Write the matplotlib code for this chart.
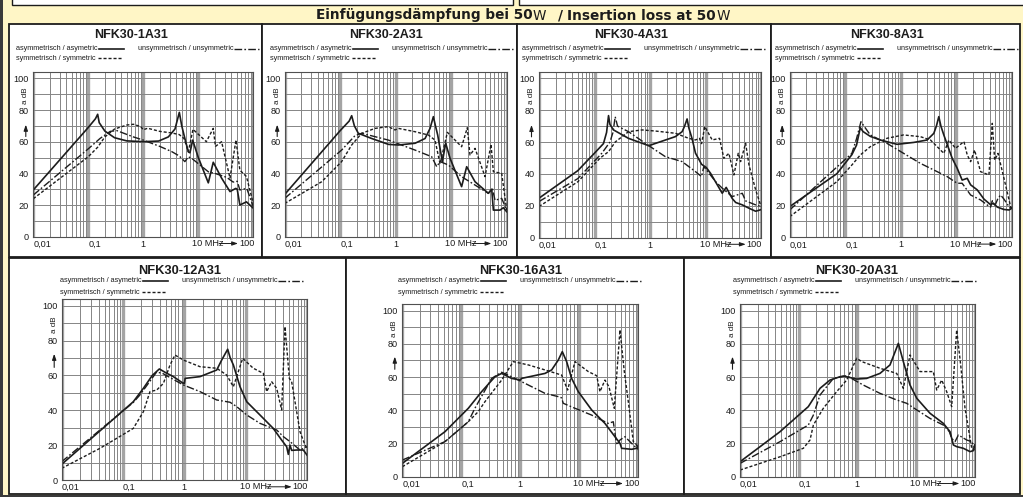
import matplotlib
matplotlib.use("Agg")
import matplotlib.pyplot as plt
from matplotlib.patches import Rectangle
from matplotlib.lines import Line2D
from matplotlib.ticker import FixedLocator, LogLocator, NullFormatter, FixedFormatter

# ---------------- data (frequency in MHz, attenuation in dB) ----------------
TITLES = ["NFK30-1A31", "NFK30-2A31", "NFK30-4A31", "NFK30-8A31",
          "NFK30-12A31", "NFK30-16A31", "NFK30-20A31"]
YTICKS = [0, 20, 40, 60, 80, 100]
XTICKS = [0.01, 0.1, 1]
XTICK_LABELS = ["0,01", "0,1", "1"]
LEG_ASYM = "asymmetrisch / asymetric"
LEG_UNSYM = "unsymmetrisch / unsymmetric"
LEG_SYM = "symmetrisch / symmetric"

# NFK30-1A31
F1_ASYM = [0.01, 0.1, 0.135, 0.148, 0.158, 0.2, 0.3, 0.5, 1.0, 1.9, 2.85, 3.77, 4.52, 5.0, 5.7, 6.6, 7.05, 7.9, 10, 15.2, 18.7, 26.5, 37.7, 48, 51, 57, 75, 100]
D1_ASYM = [29.5, 69, 74.5, 77.3, 72, 66.7, 62.5, 60.5, 60, 60.4, 63, 68, 78.5, 70, 62, 53.5, 53, 61, 50, 34, 47, 37, 28.5, 30.5, 30, 20, 22, 18]
F1_UNSYM = [0.01, 0.1, 0.163, 0.25, 0.33, 0.66, 1.0, 2.0, 3.3, 4.5, 5.7, 6.6, 7.9, 10.7, 15.2, 20, 32.7, 43, 51, 57, 76, 100]
D1_UNSYM = [26.3, 55.5, 62, 66.5, 67, 63, 61, 57, 53.7, 51, 47.4, 50.5, 49, 45.3, 41, 40, 37.5, 34.5, 35, 29.5, 30.5, 19]
F1_SYM = [0.01, 0.1, 0.148, 0.2, 0.3, 0.5, 0.66, 0.9, 1.0, 1.2, 2.0, 3.3, 4.5, 5.5, 6.6, 8.0, 14, 18.7, 20.5, 26.5, 37.7, 48.4, 57, 75, 100]
D1_SYM = [24, 50.5, 56.5, 63, 68, 70.5, 71, 69.5, 67.5, 68.5, 66.5, 65.5, 64.5, 62, 53.7, 67.8, 60, 68.4, 57, 60, 37, 61, 42, 38, 21]

# NFK30-2A31
F2_ASYM = [0.01, 0.1, 0.145, 0.161, 0.18, 0.212, 0.37, 0.74, 1.12, 2.23, 3.38, 4.16, 4.77, 5.2, 5.71, 6.93, 7.96, 9.53, 15.4, 19, 26.9, 46.7, 53.7, 57.5, 75.8, 87, 100]
D2_ASYM = [26.7, 67, 73, 76.4, 70, 65.3, 62, 58.3, 57.9, 59, 62, 68.4, 75.8, 70, 64.2, 47.4, 59, 49.5, 31.6, 44.2, 34.7, 27.4, 30, 16.8, 16.8, 18.3, 15.8]
F2_UNSYM = [0.01, 0.106, 0.185, 0.244, 0.74, 2.23, 4.45, 5.48, 6.3, 8.89, 15.4, 26.9, 46.7, 55.2, 61.6, 81.2, 100]
D2_UNSYM = [24.2, 54.7, 63.8, 65.3, 61, 54.7, 50.5, 44.2, 47.4, 45.3, 37.9, 32.6, 27.4, 30.5, 23, 24.2, 16.8]
F2_SYM = [0.01, 0.0464, 0.106, 0.161, 0.244, 0.424, 0.738, 0.973, 1.12, 2.23, 3.88, 5.11, 6.3, 8.53, 15.4, 19.5, 21.8, 26.9, 40.7, 52.2, 57.5, 81.2, 100]
D2_SYM = [21, 34.7, 47.4, 57.9, 65.3, 68.4, 69.5, 67.4, 68.4, 66.3, 64.2, 61, 46, 65.9, 56.8, 68.8, 51.6, 55.8, 37.9, 58.3, 41, 40, 16.8]

# NFK30-4A31
F3_ASYM = [0.01, 0.05, 0.1, 0.145, 0.165, 0.179, 0.19, 0.22, 0.41, 0.95, 2.87, 3.79, 4.2, 4.66, 5.0, 5.74, 6.6, 8.5, 10.3, 12.3, 20, 23.6, 30.3, 35, 46, 60, 80, 100]
D3_ASYM = [24.7, 42, 53, 59, 66, 76.6, 71, 67.6, 62.3, 57.7, 63.4, 66.5, 70, 74.5, 69, 62, 53, 46, 44, 40.4, 27.8, 31.5, 24.5, 22, 20.5, 18.5, 16.5, 17.5]
F3_UNSYM = [0.01, 0.05, 0.136, 0.19, 0.215, 0.236, 0.26, 0.41, 0.95, 1.89, 3.79, 6.59, 8.47, 9.33, 15.2, 20, 30.3, 46, 52.8, 80, 100]
D3_UNSYM = [22.6, 37, 53, 60, 66, 75.9, 70, 66.5, 57.7, 50.8, 47.7, 41.4, 38.3, 44.6, 35.1, 31, 25.7, 27.8, 23, 20.5, 19.5]
F3_SYM = [0.01, 0.05, 0.127, 0.18, 0.236, 0.41, 0.72, 1.25, 2.87, 5.0, 6.6, 7.8, 8.5, 9.7, 13.2, 17.9, 21.4, 26.4, 32.5, 38.9, 42.9, 52.8, 60.7, 80, 100]
D3_SYM = [19.5, 35, 50, 54, 60, 66.5, 67.6, 66.9, 65.5, 62.3, 61.3, 62.3, 59, 69.7, 61.3, 62.3, 49.8, 52.9, 39.3, 52.9, 47.7, 59.2, 45.6, 30, 19.5]

# NFK30-8A31
F4_ASYM = [0.01, 0.0707, 0.132, 0.16, 0.187, 0.21, 0.283, 0.43, 0.86, 1.72, 2.99, 3.95, 4.4, 4.86, 5.3, 5.98, 8.47, 10.4, 12.8, 15.8, 18.2, 24, 31.7, 41.7, 46.7, 55, 72.6, 89.5, 100]
D4_ASYM = [19.3, 40, 52, 58, 69, 66.5, 63.5, 61.2, 58.5, 59.7, 61.2, 65.4, 70, 75.9, 70, 64.4, 49.7, 43.5, 36, 37.1, 33, 29.8, 24, 20.5, 21.5, 19, 17.5, 17.2, 18.2]
F4_UNSYM = [0.01, 0.132, 0.16, 0.192, 0.283, 0.566, 1.13, 2.27, 4.54, 6.87, 10.4, 12.8, 18.2, 27.5, 36.3, 41.7, 44.7, 49.3, 56.6, 63.2, 72.6, 89.5, 100]
D4_UNSYM = [17.2, 52.8, 62, 72.7, 64.4, 59.1, 52.8, 46.5, 41.3, 38.2, 34, 34, 26.6, 23.5, 20.3, 19, 23, 19.5, 24.5, 26.6, 24, 19.3, 18.2]
F4_SYM = [0.01, 0.0707, 0.132, 0.187, 0.283, 0.566, 1.13, 2.27, 3.44, 4.86, 5.98, 7.37, 9.72, 13.8, 15.8, 18.2, 21.4, 27.5, 38.9, 44.7, 49.3, 56.6, 72.6, 95.5, 100]
D4_SYM = [13, 35, 45.5, 51.8, 57, 62.3, 64.4, 63.3, 61.2, 56, 52.8, 61.2, 56, 60.2, 51.8, 47.6, 54.9, 41.3, 39.2, 71.7, 48.6, 52.8, 37.1, 19.3, 18.2]

# NFK30-12A31
F5_ASYM = [0.01, 0.147, 0.215, 0.3, 0.391, 0.5, 0.662, 0.964, 1.0, 1.03, 1.8, 3.37, 4.06, 5.09, 5.6, 6.3, 8.09, 10.4, 17.1, 28.2, 38.6, 46.6, 49.6, 52.8, 56.2, 67.9, 87.1, 100]
D5_ASYM = [9, 44.9, 52.6, 60, 63.7, 61.5, 59.3, 55.4, 55.4, 58.3, 59.3, 63.1, 68.8, 75, 70, 66, 53.5, 44.9, 37.3, 29.6, 22.9, 19.1, 14.7, 20, 17, 17.2, 17.2, 14.3]
F5_UNSYM = [0.01, 0.147, 0.189, 0.354, 0.45, 0.964, 1.8, 3.37, 5.56, 7.13, 10.4, 17.1, 32, 41.1, 52.8, 76.9, 100]
D5_UNSYM = [10.5, 44.5, 48.8, 62, 61, 54.5, 50.7, 45.9, 44.6, 42.1, 37.3, 32.5, 28.7, 24.9, 22, 17.2, 19.1]
F5_SYM = [0.01, 0.0422, 0.147, 0.215, 0.275, 0.354, 0.455, 0.584, 0.704, 0.964, 1.8, 3.37, 4.9, 6.3, 8.94, 13.3, 19.4, 22, 26.5, 32, 38.6, 43.8, 51.5, 56.2, 76.9, 92.7, 100]
D5_SYM = [6.7, 18.2, 29.6, 39.2, 50.7, 51.6, 55.4, 66, 71.7, 68.8, 65, 64.1, 60.2, 53.5, 69.8, 64.1, 61.2, 50.7, 56.4, 52.6, 40.2, 88, 58.3, 56.4, 27.7, 20.1, 18.2]

# NFK30-16A31
F6_ASYM = [0.01, 0.0528, 0.1315, 0.221, 0.372, 0.483, 0.713, 1.0, 1.05, 2.62, 3.4, 4.41, 5.15, 6.1, 7.41, 9.62, 16.2, 27.2, 40.2, 48.9, 52.2, 77.1, 93.7, 100]
D6_ASYM = [8, 27.1, 41.2, 51.2, 60.2, 62.2, 59.2, 58.2, 59.2, 62.2, 64.3, 70.3, 75.3, 69.3, 59.2, 51.2, 40.2, 32.1, 24.1, 20.1, 17.1, 16.5, 17.1, 19]
F6_UNSYM = [0.01, 0.0528, 0.1315, 0.17, 0.327, 0.483, 0.713, 1.37, 2.62, 4.41, 5.0, 5.35, 8.45, 16.2, 31, 37.7, 43, 48.9, 59.4, 87.8, 100]
D6_UNSYM = [10, 21.1, 33.1, 41.2, 59.2, 62.9, 60.2, 55.2, 50.2, 48.2, 47.5, 44.2, 41.2, 37.1, 32.1, 33.1, 19.1, 22.1, 24.1, 18.1, 17.1]
F6_SYM = [0.01, 0.0528, 0.1315, 0.194, 0.252, 0.483, 0.76, 1.37, 2.62, 5.02, 6.34, 8.45, 14.2, 19.7, 22.4, 27.2, 31.8, 39.2, 48.9, 57.9, 67.7, 82.3, 90.2, 100]
D6_SYM = [6, 21.1, 33.1, 39.2, 45.2, 58.2, 69.3, 67.3, 64.3, 61.2, 52.2, 69.3, 63.3, 60.8, 51.2, 58.2, 54.2, 41.2, 88.4, 63.3, 45.2, 21.1, 20.1, 16.1]

# NFK30-20A31
F7_ASYM = [0.01, 0.0481, 0.146, 0.231, 0.342, 0.507, 0.577, 0.975, 1.44, 2.43, 3.6, 5.0, 6.08, 7.9, 10.3, 17.3, 29.2, 38, 43.3, 49.3, 64.1, 83.2, 94.9, 100]
D7_ASYM = [9, 27.1, 42.2, 53.2, 58.2, 60.2, 60.6, 58.8, 59.2, 62.2, 67.3, 80.3, 69.3, 55.2, 47.2, 38.2, 32.1, 27.1, 19.1, 18.1, 17.1, 15.1, 15.7, 19.1]
F7_UNSYM = [0.01, 0.0481, 0.146, 0.178, 0.231, 0.39, 0.658, 1.26, 2.43, 4.68, 6.93, 10.3, 17.3, 29.2, 37, 40.5, 46.2, 52.7, 73.1, 88.9, 100]
D7_UNSYM = [8, 21.1, 31.1, 37.1, 49.2, 59.2, 60.8, 55.2, 50.2, 46.2, 44.2, 40.2, 35.1, 31.1, 27.1, 23.1, 21.1, 25.1, 22.1, 21.1, 17.1]
F7_SYM = [0.01, 0.0481, 0.12, 0.156, 0.178, 0.263, 0.444, 0.658, 0.975, 1.19, 2.43, 4.68, 6.08, 7.9, 11.7, 19.7, 22.5, 27.4, 33.3, 40.5, 49.3, 57.7, 68.4, 88.9, 100]
D7_SYM = [4, 12, 17.1, 22.1, 31.1, 41.2, 51.2, 58.2, 71.3, 69.3, 65.3, 62.2, 53.2, 73.3, 63.3, 63.3, 52.2, 58.2, 51.2, 42.2, 88.4, 67.3, 41.2, 17.1, 16.1]

SERIES = [
    ((F1_ASYM, D1_ASYM), (F1_UNSYM, D1_UNSYM), (F1_SYM, D1_SYM)),
    ((F2_ASYM, D2_ASYM), (F2_UNSYM, D2_UNSYM), (F2_SYM, D2_SYM)),
    ((F3_ASYM, D3_ASYM), (F3_UNSYM, D3_UNSYM), (F3_SYM, D3_SYM)),
    ((F4_ASYM, D4_ASYM), (F4_UNSYM, D4_UNSYM), (F4_SYM, D4_SYM)),
    ((F5_ASYM, D5_ASYM), (F5_UNSYM, D5_UNSYM), (F5_SYM, D5_SYM)),
    ((F6_ASYM, D6_ASYM), (F6_UNSYM, D6_UNSYM), (F6_SYM, D6_SYM)),
    ((F7_ASYM, D7_ASYM), (F7_UNSYM, D7_UNSYM), (F7_SYM, D7_SYM)),
]

# ---------------- layout (pixels, origin top-left) ----------------
W, H = 1023, 497
BG = "#fff6c6"
INK = "#1c1c1c"
LAYOUT = [
    ((9, 262, 24, 257), (33.3, 253.3, 72, 236.7), (131.5, 35), (16, 49)),
    ((262, 517, 24, 257), (284.7, 506.7, 72, 236.7), (386.5, 35), (270, 49)),
    ((517, 771, 24, 257), (539, 761, 72, 237.5), (631, 35), (522, 49)),
    ((771, 1020, 24, 257), (789.7, 1011.7, 72, 237.3), (887, 35), (775, 49)),
    ((9, 346, 258, 494), (61.7, 307, 298.7, 480), (180, 270.7), (60, 280.7)),
    ((346, 684, 258, 494), (402.3, 638.3, 304, 476.7), (520.5, 271), (398.3, 280.5)),
    ((684, 1020, 258, 494), (740, 974.7, 304, 476.7), (856.7, 271), (733.3, 280.5)),
]
YMAX = 104

SANS = ["Liberation Sans", "DejaVu Sans"]
NARROW = ["Liberation Sans Narrow", "Liberation Sans", "DejaVu Sans"]

fig = plt.figure(figsize=(W / 100, H / 100), dpi=100)
fig.patch.set_facecolor(BG)


def frect(x0, y0, x1, y1, **kw):
    r = Rectangle((x0 / W, 1 - y1 / H), (x1 - x0) / W, (y1 - y0) / H,
                  transform=fig.transFigure, **kw)
    fig.add_artist(r)
    return r


def fline(x0, x1, y, **kw):
    ln = Line2D([x0 / W, x1 / W], [1 - y / H, 1 - y / H], transform=fig.transFigure, **kw)
    fig.add_artist(ln)


def ftext(x, y, s, **kw):
    fig.text(x / W, 1 - y / H, s, **kw)


# outer frame decoration
frect(-5, -5, 2.5, H + 5, facecolor="#3a3a3a", edgecolor="none")
frect(12, -10, 513, 4.5, facecolor="white", edgecolor=INK, lw=1.0)
frect(519, -10, 1030, 4.5, facecolor="white", edgecolor=INK, lw=1.0)
frect(-2, 494.5, W + 2, H + 5, facecolor="#3a3a3a", edgecolor="none")

# header
hb = dict(fontsize=9.8, fontweight="bold", color=INK, family="DejaVu Sans", va="baseline", ha="left")
hn = dict(fontsize=9.8, fontweight="normal", color=INK, family="DejaVu Sans", va="baseline", ha="left")
ftext(316, 19.5, "Einfügungsdämpfung bei 50", **hb)
ftext(533, 19.5, "W", **hn)
ftext(558, 19.5, "/", **hb)
ftext(567, 19.5, "Insertion loss at 50", **hb)
ftext(716.5, 19.5, "W", **hn)

STYLES = [
    dict(color=INK, lw=1.2, linestyle="-"),
    dict(color=INK, lw=1.0, linestyle=(0, (5.5, 1.6, 1.2, 1.6))),
    dict(color=INK, lw=1.0, linestyle=(0, (2.2, 1.4))),
]

for i, (frame, axb, tpos, lpos) in enumerate(LAYOUT):
    fx0, fx1, fy0, fy1 = frame
    frect(fx0, fy0, fx1, fy1, facecolor="white", edgecolor=INK, lw=1.3, zorder=0)

    ax0, ax1, ay0, ay1 = axb
    ax = fig.add_axes([ax0 / W, 1 - ay1 / H, (ax1 - ax0) / W, (ay1 - ay0) / H])
    wpx, hpx = ax1 - ax0, ay1 - ay0
    ax.set_facecolor("white")
    ax.set_xscale("log")
    ax.set_xlim(0.01, 100)
    ax.set_ylim(0, YMAX)
    ax.xaxis.set_major_locator(FixedLocator([0.01, 0.1, 1, 10, 100]))
    ax.xaxis.set_major_formatter(FixedFormatter(XTICK_LABELS + ["", ""]))
    ax.xaxis.set_minor_locator(LogLocator(base=10, subs=range(2, 10), numticks=20))
    ax.xaxis.set_minor_formatter(NullFormatter())
    ax.yaxis.set_major_locator(FixedLocator(YTICKS))
    ax.yaxis.set_minor_locator(FixedLocator([10, 30, 50, 70, 90]))
    ax.set_yticklabels([str(v) for v in YTICKS])
    ax.tick_params(which="both", length=0)
    ax.tick_params(axis="y", pad=3.0, labelsize=6.6, labelcolor=INK)
    ax.tick_params(axis="x", pad=2.2, labelsize=6.6, labelcolor=INK)
    for lbl in ax.get_yticklabels() + ax.get_xticklabels():
        lbl.set_family(NARROW)
    for lbl, ha in zip(ax.get_xticklabels(), ["left", "left", "center", "center", "center"]):
        lbl.set_ha(ha)
    ax.grid(True, which="major", axis="x", color="#a4a4a4", lw=2.4)
    ax.grid(True, which="minor", axis="x", color="#858585", lw=0.7)
    ax.grid(True, which="both", axis="y", color="#858585", lw=0.7)
    ax.set_axisbelow(True)
    for sp in ax.spines.values():
        sp.set_color("#505050")
        sp.set_linewidth(0.8)

    for (fr, db), st in zip(SERIES[i], STYLES):
        ax.plot(fr, db, **st, solid_joinstyle="round", dash_joinstyle="round")

    # axis labels
    lx = -7.5 / wpx
    ax.text(lx, 89, "a dB", rotation=90, transform=ax.get_yaxis_transform(),
            ha="center", va="center", fontsize=5.8, family=NARROW, color=INK)
    ax.annotate("", xy=(lx, 74 if i >= 4 else 72.5), xytext=(lx, 63 if i >= 4 else 61.5),
                xycoords=ax.get_yaxis_transform(),
                arrowprops=dict(arrowstyle="-|>,head_length=0.35,head_width=0.12", lw=0.8, color=INK))
    yb = -6.8 / hpx
    ax.text(0.75 - 6.0 / wpx, yb, "10 MHz", transform=ax.transAxes, ha="left", va="center",
            fontsize=6.6, family=NARROW, color=INK)
    ax.text(1 + 1.0 / wpx, yb, "100", transform=ax.transAxes, ha="right", va="center",
            fontsize=6.6, family=NARROW, color=INK)
    ax.annotate("", xy=(1 - 12.5 / wpx, yb), xytext=(0.75 + 18.0 / wpx, yb),
                xycoords=ax.transAxes,
                arrowprops=dict(arrowstyle="-|>,head_length=0.35,head_width=0.12", lw=0.7, color=INK))

    # title
    tx, ty = tpos
    ftext(tx, ty, TITLES[i], ha="center", va="center", fontsize=9.0 if i < 4 else 9.3,
          fontweight="bold", family=SANS, color=INK)

    # legend
    lx0, ly = lpos
    ly2 = ly + (9.3 if i < 4 else 11.6)
    lk = dict(fontsize=5.2, family=SANS, color=INK, va="center", ha="left")
    ftext(lx0, ly, LEG_ASYM, **lk)
    fline(lx0 + 83, lx0 + 108, ly, **STYLES[0])
    ftext(lx0 + 122, ly, LEG_UNSYM, **lk)
    fline(lx0 + 218, lx0 + 243, ly, **STYLES[1])
    ftext(lx0, ly2, LEG_SYM, **lk)
    fline(lx0 + 82, lx0 + 107, ly2, **STYLES[2])

fig.savefig("out.png", dpi=100, facecolor=BG)
